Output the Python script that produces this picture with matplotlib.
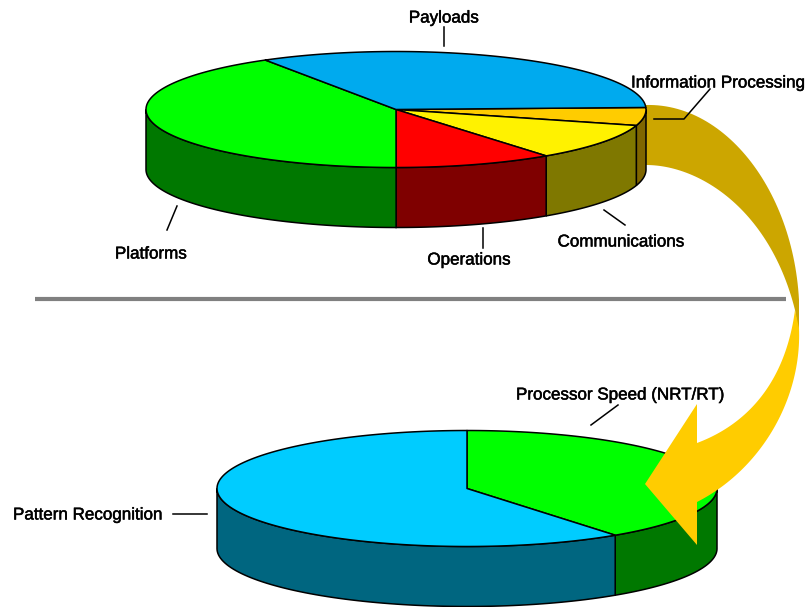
import numpy as np
import matplotlib
matplotlib.use("Agg")
import matplotlib.pyplot as plt
import matplotlib.patheffects as pe
from matplotlib.patches import Polygon

plt.rcParams['font.family'] = ['Liberation Sans', 'DejaVu Sans']

# top pie, clockwise from the right hand side
top_labels = ["Information Processing", "Communications", "Operations", "Platforms", "Payloads"]
top_values = [5, 10.3, 10.25, 41.25, 33.2]
top_colors = ["#ffcc00", "#fff200", "#ff0000", "#00ff00", "#00aaee"]
top_sides = ["#7f6600", "#7f7800", "#7f0000", "#007800", "#005577"]

# bottom pie
bottom_labels = ["Processor Speed (NRT/RT)", "Pattern Recognition"]
bottom_values = [39.9, 60.1]
bottom_colors = ["#00ff00", "#00ccff"]
bottom_sides = ["#007800", "#006680"]

RX, RY = 250, 58


def draw_pie(ax, cx, cy, depth, values, colors, sides, start):
    # fractions to angles, ellipse is the squashed circle so angles are the circle ones
    vals = np.array(values, dtype=float)
    edges = start - np.concatenate([[0], np.cumsum(vals / vals.sum() * 360)])
    for a0, a1, side in zip(edges[:-1], edges[1:], sides):
        # only the part facing the viewer (-180..0) has a wall
        hi, lo = min(a0, 0), max(a1, -180)
        if hi > lo:
            t = np.radians(np.linspace(hi, lo, 80))
            x = cx + RX * np.cos(t)
            y = cy - RY * np.sin(t)
            ax.add_patch(Polygon(np.r_[np.c_[x, y], np.c_[x, y + depth][::-1]],
                                 fc=side, ec="black", lw=1.1, zorder=2))
    for a0, a1, col in zip(edges[:-1], edges[1:], colors):
        t = np.radians(np.linspace(a0, a1, 200))
        x = cx + RX * np.cos(t)
        y = cy - RY * np.sin(t)
        ax.add_patch(Polygon(np.r_[[[cx, cy]], np.c_[x, y]],
                             fc=col, ec="black", lw=1.1, joinstyle="round", zorder=3))


def bezier(p0, p1, p2, p3, n=60):
    s = np.linspace(0, 1, n)[:, None]
    p0, p1, p2, p3 = [np.array(p, dtype=float) for p in (p0, p1, p2, p3)]
    return (1 - s) ** 3 * p0 + 3 * (1 - s) ** 2 * s * p1 + 3 * (1 - s) * s ** 2 * p2 + s ** 3 * p3


fig = plt.figure(figsize=(8.08, 6.07), dpi=100)
ax = fig.add_axes([0, 0, 1, 1])
ax.set_xlim(0, 808)
ax.set_ylim(607, 0)
ax.axis("off")

# gold part of the arrow goes behind the top pie
gold_outer = bezier((646, 105), (725, 103), (793, 190), (799, 300))
gold_inner = bezier((646, 165), (700, 165), (770, 210), (795, 310))
ax.add_patch(Polygon(np.r_[gold_outer, [(799, 330), (798, 330)], gold_inner[::-1]],
                     fc="#cca600", ec="none", zorder=1))

draw_pie(ax, 396, 109.5, 60, top_values, top_colors, top_sides, 2)
draw_pie(ax, 467, 488.5, 60, bottom_values, bottom_colors, bottom_sides, 90)

# divider
ax.plot([35, 786], [299, 299], color="#808080", lw=3, solid_capstyle="butt", zorder=1)

# yellow part of the arrow sits over the bottom pie
yellow_outer = bezier((799, 328), (802, 400), (760, 470), (697, 502))
yellow_inner = bezier((795, 310), (785, 385), (745, 425), (697, 443))
head = [(697, 545), (645, 484), (697, 404)]
ax.add_patch(Polygon(np.r_[yellow_outer, head, yellow_inner[::-1]],
                     fc="#ffcc00", ec="none", zorder=5))

# leader lines
leaders = [
    ([444, 444], [27, 46]),
    ([654, 684, 710], [119, 119, 89]),
    ([604, 625], [210, 225]),
    ([483, 483], [228, 248]),
    ([177, 167], [206, 230]),
    ([173, 207], [514, 514]),
    ([591, 618], [425, 405]),
]
for lx, ly in leaders:
    ax.plot(lx, ly, color="black", lw=1.1, zorder=6)

fs = 12.25
heavy = [pe.withStroke(linewidth=0.35, foreground="black")]
label_spots = [
    (top_labels[4], 444, 18, "center"),
    (top_labels[0], 631, 83, "left"),
    (top_labels[1], 621, 242, "center"),
    (top_labels[2], 469, 260, "center"),
    (top_labels[3], 151, 254, "center"),
    (bottom_labels[1], 13, 515, "left"),
    (bottom_labels[0], 516, 395, "left"),
]
for txt, tx, ty, ha in label_spots:
    ax.text(tx, ty, txt, ha=ha, va="center", fontsize=fs, zorder=7, path_effects=heavy)

fig.savefig("out.png", dpi=100)
